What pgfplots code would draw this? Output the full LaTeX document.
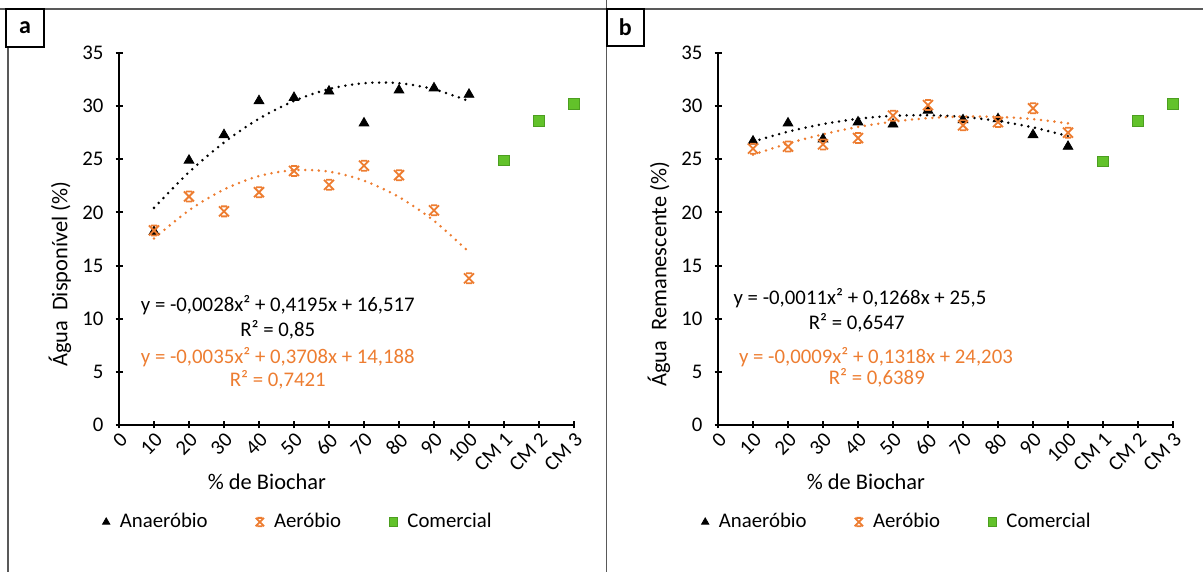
\documentclass[border=0pt]{standalone}
\usepackage{fontspec}
\setmainfont{Carlito}
\usepackage{pgfplots}
\pgfplotsset{compat=1.18}

\definecolor{laranja}{HTML}{ED7D31}
\definecolor{verde}{HTML}{62C22A}
\definecolor{verdeb}{HTML}{4C9E20}
\definecolor{moldura}{HTML}{595959}

% marcador "x" com barras (estrela do Excel)
\pgfdeclareplotmark{xbar}{%
  \pgfpathmoveto{\pgfqpoint{-\pgfplotmarksize}{-\pgfplotmarksize}}%
  \pgfpathlineto{\pgfqpoint{\pgfplotmarksize}{\pgfplotmarksize}}%
  \pgfpathmoveto{\pgfqpoint{-\pgfplotmarksize}{\pgfplotmarksize}}%
  \pgfpathlineto{\pgfqpoint{\pgfplotmarksize}{-\pgfplotmarksize}}%
  \pgfpathmoveto{\pgfqpoint{-0.6\pgfplotmarksize}{\pgfplotmarksize}}%
  \pgfpathlineto{\pgfqpoint{0.6\pgfplotmarksize}{\pgfplotmarksize}}%
  \pgfpathmoveto{\pgfqpoint{-0.6\pgfplotmarksize}{-\pgfplotmarksize}}%
  \pgfpathlineto{\pgfqpoint{0.6\pgfplotmarksize}{-\pgfplotmarksize}}%
  \pgfusepathqstroke}

\pgfplotsset{
  painel/.style={
    scale only axis, width=227.5pt, height=186pt, anchor=south west,
    xmin=0, xmax=13, ymin=0, ymax=35, clip=false,
    axis x line*=bottom, axis y line*=left,
    axis line style={line width=1pt, black},
    xtick={0,...,13},
    xticklabels={0,10,20,30,40,50,60,70,80,90,100,CM 1,CM 2,CM 3},
    ytick={0,5,...,35},
    tick align=center, major tick length=3.5pt,
    tick style={line width=1pt, black},
    xticklabel style={rotate=45, anchor=north east, inner sep=1pt},
    yticklabel style={xshift=-2.5pt},
    /pgf/number format/assume math mode=true,
    xlabel={\% de Biochar},
    label style={font=\fontsize{11.2}{13}\selectfont},
    xlabel style={at={(rel axis cs:0.325,-0.153)}, anchor=center},
    ylabel style={at={(rel axis cs:-0.13,0.405)}, anchor=center},
    legend columns=3, legend cell align=left,
    legend style={at={(rel axis cs:-0.037,-0.261)}, anchor=west, draw=none,
      fill=none, inner sep=0pt,
      /tikz/every even column/.append style={column sep=22pt},
      /tikz/every odd column/.append style={column sep=3pt}},
    legend image code/.code={\draw[##1, mark size=2.1pt] plot coordinates {(0pt,0pt)};},
  },
  tendencia/.style={smooth, line width=1.4pt, dash pattern=on 0pt off 3.4pt,
    line cap=round, forget plot},
  ana/.style={only marks, mark=triangle*, mark size=2.8pt, black},
  aer/.style={only marks, mark=xbar, mark size=2.5pt, laranja, line width=0.9pt},
  com/.style={only marks, mark=square*, mark size=2.6pt, fill=verde, draw=verdeb,
    line width=0.5pt},
}

\begin{document}
\begin{tikzpicture}[font=\fontsize{10.4}{12}\selectfont]
\path[use as bounding box] (0,0) rectangle (601.5pt,286pt);
\draw[moldura, line width=0.8pt] (0,281.5pt) -- (601.5pt,281.5pt);
\draw[moldura, line width=0.8pt] (4pt,281.5pt) -- (4pt,0);
\draw[moldura, line width=0.8pt] (303.25pt,286pt) -- (303.25pt,0);

% painel a
\begin{axis}[painel, at={(59.5pt,73.5pt)}, ylabel={Água~~Disponível (\%)}]
\addplot[tendencia, black] coordinates {
  (1,20.43)(2,23.79)(3,26.58)(4,28.82)(5,30.49)(6,31.61)(7,32.16)(8,32.16)(9,31.59)(10,30.47)};
\addplot[tendencia, laranja] coordinates {
  (1,17.55)(2,20.20)(3,22.16)(4,23.42)(5,23.98)(6,23.84)(7,22.99)(8,21.45)(9,19.21)(10,16.27)};
\addplot[ana] coordinates {
  (1,18.2)(2,24.9)(3,27.3)(4,30.5)(5,30.8)(6,31.4)(7,28.4)(8,31.5)(9,31.7)(10,31.1)};
\addlegendentry{Anaeróbio}
\addplot[aer] coordinates {
  (1,18.3)(2,21.5)(3,20.1)(4,21.9)(5,23.9)(6,22.6)(7,24.4)(8,23.5)(9,20.2)(10,13.8)};
\addlegendentry{Aeróbio}
\addplot[com] coordinates {(11,24.9)(12,28.6)(13,30.2)};
\addlegendentry{Comercial}
\node at (rel axis cs:0.349,0.323) {y = -0,0028x² + 0,4195x + 16,517};
\node at (rel axis cs:0.349,0.255) {R² = 0,85};
\node[laranja] at (rel axis cs:0.349,0.183) {y = -0,0035x² + 0,3708x + 14,188};
\node[laranja] at (rel axis cs:0.349,0.121) {R² = 0,7421};
\end{axis}

% painel b
\begin{axis}[painel, at={(359pt,73.5pt)}, ylabel={Água~~Remanescente (\%)}]
\addplot[tendencia, black] coordinates {
  (1,26.66)(2,27.60)(3,28.31)(4,28.81)(5,29.09)(6,29.15)(7,28.99)(8,28.60)(9,28.00)(10,27.18)};
\addplot[tendencia, laranja] coordinates {
  (1,25.43)(2,26.48)(3,27.35)(4,28.04)(5,28.54)(6,28.87)(7,29.02)(8,28.99)(9,28.78)(10,28.38)};
\addplot[ana] coordinates {
  (1,26.7)(2,28.4)(3,26.9)(4,28.5)(5,28.3)(6,29.6)(7,28.7)(8,28.8)(9,27.3)(10,26.2)};
\addlegendentry{Anaeróbio}
\addplot[aer] coordinates {
  (1,26.0)(2,26.2)(3,26.4)(4,27.0)(5,29.1)(6,30.1)(7,28.2)(8,28.5)(9,29.8)(10,27.5)};
\addlegendentry{Aeróbio}
\addplot[com] coordinates {(11,24.8)(12,28.6)(13,30.2)};
\addlegendentry{Comercial}
\node at (rel axis cs:0.312,0.341) {y = -0,0011x² + 0,1268x + 25,5};
\node at (rel axis cs:0.305,0.274) {R² = 0,6547};
\node[laranja] at (rel axis cs:0.347,0.183) {y = -0,0009x² + 0,1318x + 24,203};
\node[laranja] at (rel axis cs:0.349,0.126) {R² = 0,6389};
\end{axis}

% rótulos dos painéis
\draw[line width=1pt, fill=white] (3pt,281.5pt) rectangle (22pt,262.5pt);
\node[font=\fontsize{12}{14}\selectfont\bfseries] at (12.5pt,272pt) {a};
\draw[line width=1pt, fill=white] (303.25pt,281.5pt) rectangle (322pt,263pt);
\node[font=\fontsize{12}{14}\selectfont\bfseries] at (312.6pt,272.2pt) {b};
\end{tikzpicture}
\end{document}
